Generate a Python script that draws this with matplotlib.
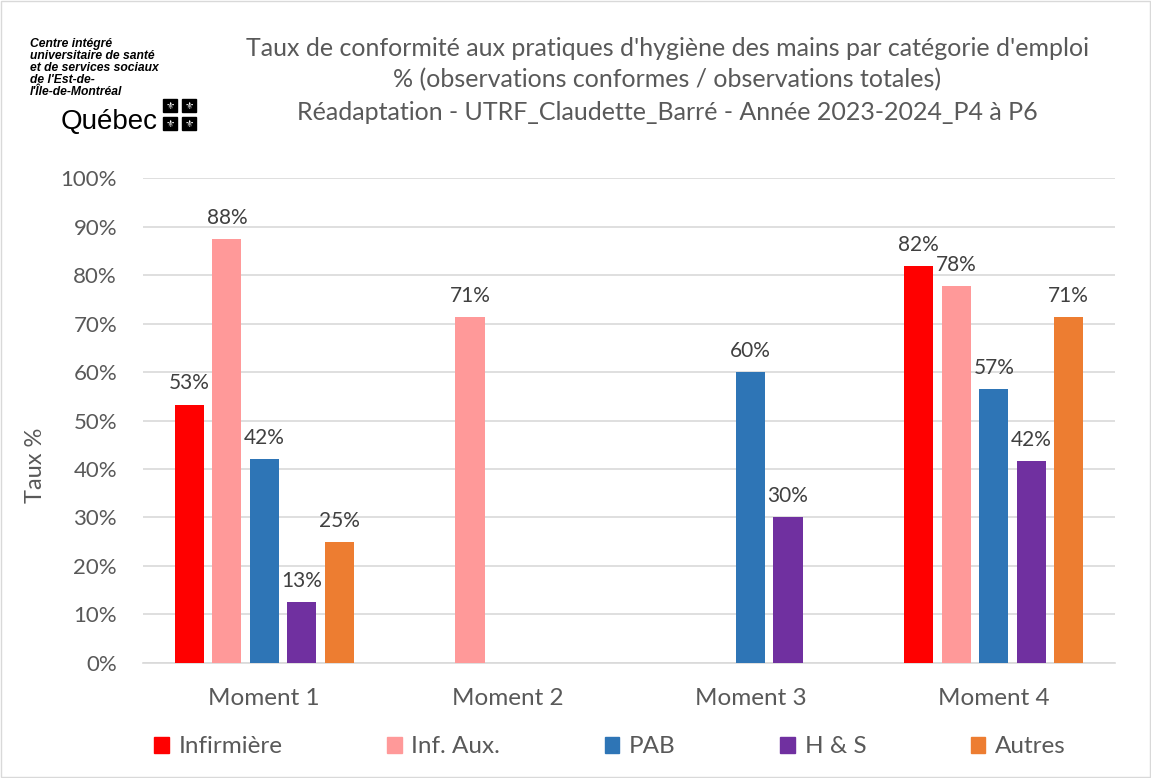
import numpy as np
import matplotlib.pyplot as plt
from matplotlib.patches import Rectangle

plt.rcParams['font.family'] = ['Lato', 'DejaVu Sans']

moments = ['Moment 1', 'Moment 2', 'Moment 3', 'Moment 4']
series = ['Infirmière', 'Inf. Aux.', 'PAB', 'H & S', 'Autres']
colors = ['#FF0000', '#FF9999', '#2E75B6', '#7030A0', '#ED7D31']

# None = no bar for that moment
infirmiere = [53.3, None, None, 81.8]
inf_aux = [87.5, 71.4, None, 77.8]
pab = [42.1, None, 60.0, 56.5]
hs = [12.5, None, 30.0, 41.7]
autres = [25.0, None, None, 71.4]
values = [infirmiere, inf_aux, pab, hs, autres]

text_col = '#595959'
label_col = '#404040'

fig = plt.figure(figsize=(11.51, 7.78), dpi=100)
ax = fig.add_axes([0.124, 0.148, 0.845, 0.623])

x = np.arange(len(moments))
step = 0.154
width = 0.12
for i, (name, vals, c) in enumerate(zip(series, values, colors)):
    pos = x + (i - 2) * step
    for xp, v in zip(pos, vals):
        if v is None:
            continue
        ax.bar(xp, v, width=width, color=c, zorder=3)
        ax.text(xp, v + 2.3, f'{int(v + 0.5)}%', ha='center', va='bottom',
                fontsize=15, color=label_col)

ax.set_xlim(-0.5, 3.5)
ax.set_ylim(0, 100)
ax.set_yticks(np.arange(0, 101, 10))
ax.set_yticklabels([f'{t}%' for t in range(0, 101, 10)])
ax.set_xticks(x)
ax.set_xticklabels(moments)
ax.tick_params(axis='both', length=0, colors=text_col)
ax.tick_params(axis='x', pad=18, labelsize=17.5)
ax.tick_params(axis='y', pad=18.5, labelsize=16)
ax.grid(axis='y', color='#D9D9D9', linewidth=1.2, zorder=0)
for s in ['top', 'right', 'left']:
    ax.spines[s].set_visible(False)
ax.spines['bottom'].set_color('#D9D9D9')
ax.spines['bottom'].set_linewidth(1.2)
ax.set_ylabel('Taux %', fontsize=17, color=text_col)
ax.yaxis.set_label_coords(-0.099, 0.408)

fig.text(0.5795, 0.938, "Taux de conformité aux pratiques d'hygiène des mains par catégorie d'emploi",
         ha='center', va='center', fontsize=18, color=text_col)
fig.text(0.5795, 0.897, '% (observations conformes / observations totales)',
         ha='center', va='center', fontsize=18, color=text_col)
fig.text(0.5795, 0.855, 'Réadaptation - UTRF_Claudette_Barré - Année 2023-2024_P4 à P6',
         ha='center', va='center', fontsize=18, color=text_col)

# logo
logo_lines = ['Centre intégré', 'universitaire de santé', 'et de services sociaux',
              "de l'Est-de-", "l'Île-de-Montréal"]
for k, line in enumerate(logo_lines):
    fig.text(0.026, 0.9430 - k * 0.0154, line, fontsize=8.7, fontweight='bold',
             fontstyle='italic', family=['Liberation Sans Narrow', 'Liberation Sans'],
             ha='left', va='center', color='black')
fig.text(0.053, 0.843, 'Québec', fontsize=20, family=['Liberation Sans Narrow', 'Liberation Sans'],
         ha='left', va='center', color='black')
for cx, cy in [(0.1477, 0.864), (0.1642, 0.864), (0.1477, 0.841), (0.1642, 0.841)]:
    fig.patches.append(Rectangle((cx - 0.0061, cy - 0.0084), 0.0122, 0.0168,
                                 transform=fig.transFigure, color='black'))
    fig.text(cx, cy, '\u269c', fontsize=7.5, color='white', ha='center', va='center',
             family='DejaVu Sans')

handles = [Rectangle((0, 0), 1, 1, color=c) for c in colors]
fig.legend(handles, series, loc='center', bbox_to_anchor=(0.53, 0.04), ncol=5,
           frameon=False, fontsize=17.5, labelcolor=text_col, handlelength=0.6,
           handleheight=0.6, handletextpad=0.4, columnspacing=4.3)

fig.patches.append(Rectangle((0.001, 0.001), 0.998, 0.998, transform=fig.transFigure,
                             fill=False, edgecolor='#D9D9D9', linewidth=1))

fig.savefig('out.png', dpi=100)
